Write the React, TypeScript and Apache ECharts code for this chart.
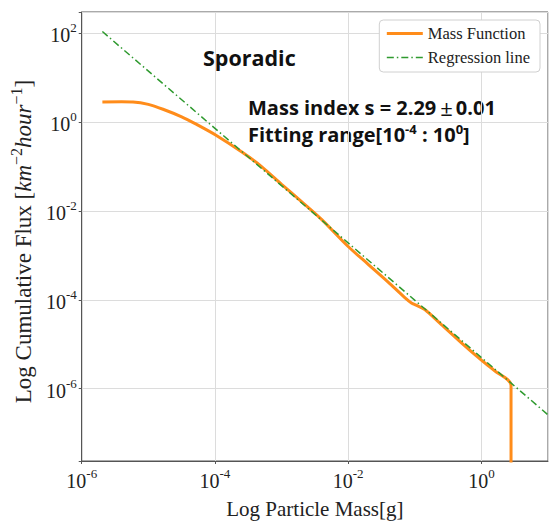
import React, { useEffect, useRef } from "react";
import * as echarts from "echarts";

// log10 of particle mass [g] and log10 of cumulative flux for the Mass Function curve
const massFunctionLogMass = [-5.69, -5.4, -5.23, -5.0, -4.78, -4.5, -4.29, -3.99, -3.59, -3.3, -3.0, -2.7, -2.4, -2.0, -1.7, -1.4, -1.15, -1.05, -0.98, -0.85, -0.6, -0.3, 0.0, 0.2, 0.445, 0.445];
const massFunctionLogFlux = [0.455, 0.46, 0.455, 0.4, 0.29, 0.12, -0.04, -0.29, -0.68, -1.0, -1.4, -1.79, -2.19, -2.8, -3.2, -3.6, -3.95, -4.07, -4.12, -4.22, -4.56, -4.97, -5.36, -5.6, -5.93, -9];

// regression line end points (log10 mass, log10 flux)
const regressionLogMass = [-5.69, 1.0];
const regressionLogFlux = [2.04, -6.59];

const xTickExps = [-6, -4, -2, 0];
const yTickExps = [-6, -4, -2, 0, 2];

const SERIF = "'Liberation Serif', 'Times New Roman', serif";
const SANS = "'Open Sans', Lato, sans-serif";
const TXT = "#222";

const tickRich = {
  b: { fontFamily: SERIF, fontSize: 20, color: TXT, lineHeight: 24, verticalAlign: "bottom" },
  s: { fontFamily: SERIF, fontSize: 13, color: TXT, lineHeight: 14, verticalAlign: "top" },
};

const makeFormatter = (ticks: number[]) => (v: number) => {
  const r = Math.round(v);
  if (Math.abs(v - r) > 1e-6 || ticks.indexOf(r) < 0) return "";
  return `{b|10}{s|${r}}`;
};

export default function App() {
  const ref = useRef<HTMLDivElement>(null);
  useEffect(() => {
    if (!ref.current) return;
    const chart = echarts.init(ref.current, null, { renderer: "svg" });
    const mfData = massFunctionLogMass.map((x, i) => [x, massFunctionLogFlux[i]]);
    const regData = regressionLogMass.map((x, i) => [x, regressionLogFlux[i]]);
    chart.setOption({
      animation: false,
      backgroundColor: "#fff",
      grid: {
        left: 78,
        right: 1,
        top: 12,
        bottom: 52,
        show: true,
        borderColor: "#555",
        borderWidth: 1,
        backgroundColor: "transparent",
      },
      legend: {
        orient: "vertical",
        right: 9,
        top: 20,
        itemWidth: 36,
        itemHeight: 14,
        itemGap: 7,
        padding: [5, 10, 6, 6],
        backgroundColor: "#fff",
        borderColor: "#d0d0d0",
        borderWidth: 1,
        borderRadius: 4,
        itemStyle: { opacity: 0 },
        textStyle: { fontFamily: SERIF, fontSize: 16.5, color: TXT },
        data: [
          { name: "Mass Function", lineStyle: { width: 3 }, itemStyle: { opacity: 0 } },
          { name: "Regression line", lineStyle: { width: 1.5 }, itemStyle: { opacity: 0 } },
        ],
      },
      xAxis: {
        type: "value",
        min: -6,
        max: 1,
        interval: 2,
        name: "Log Particle Mass[g]",
        nameLocation: "middle",
        nameGap: 37,
        nameTextStyle: { fontFamily: SERIF, fontSize: 21, color: TXT },
        axisLine: { show: true, onZero: false, lineStyle: { color: "#555" } },
        axisTick: { show: true, length: 3, lineStyle: { color: "#555" } },
        axisLabel: {
          margin: 6,
          formatter: makeFormatter(xTickExps),
          rich: tickRich,
          showMaxLabel: false,
        },
        splitLine: { show: true, lineStyle: { color: "#dcdcdc", width: 1 } },
      },
      yAxis: {
        type: "value",
        min: -7.63,
        max: 2.48,
        splitNumber: 5,
        name: "{n|Log Cumulative Flux [}{i|km}{s|−2}{i|hour}{s|−1}{n|]}",
        nameLocation: "middle",
        nameGap: 41,
        nameRotate: 90,
        nameTextStyle: {
          fontFamily: SERIF,
          fontSize: 23,
          color: TXT,
          padding: [0, 10, 0, 0],
          rich: {
            n: { fontFamily: SERIF, fontSize: 23, color: TXT, lineHeight: 27, verticalAlign: "bottom" },
            i: { fontFamily: SERIF, fontSize: 23, fontStyle: "italic", color: TXT, lineHeight: 27, verticalAlign: "bottom" },
            s: { fontFamily: SERIF, fontSize: 16, color: TXT, lineHeight: 17, verticalAlign: "top" },
          },
        },
        axisLine: { show: true, onZero: false, lineStyle: { color: "#555" } },
        axisTick: { show: true, length: 3, lineStyle: { color: "#555" } },
        axisLabel: {
          margin: 5,
          formatter: makeFormatter(yTickExps),
          rich: tickRich,
        },
        splitLine: { show: true, lineStyle: { color: "#dcdcdc", width: 1 } },
      },
      series: [
        {
          name: "Mass Function",
          type: "line",
          data: mfData,
          symbol: "none",
          showSymbol: false,
          smooth: 0.3,
          clip: true,
          lineStyle: { color: "#ff8c1a", width: 3 },
          itemStyle: { color: "#ff8c1a" },
          z: 2,
        },
        {
          name: "Regression line",
          type: "line",
          data: regData,
          symbol: "none",
          showSymbol: false,
          clip: true,
          lineStyle: { color: "#2f9a2f", width: 1.5, type: [7, 3, 1.5, 3] },
          itemStyle: { color: "#2f9a2f" },
          z: 3,
        },
      ],
      graphic: [
        {
          type: "text",
          x: 203,
          y: 57,
          style: {
            text: "Sporadic",
            font: `bold 21.5px ${SANS}`,
            fill: "#111",
            align: "left",
            verticalAlign: "middle",
          },
        },
        {
          type: "text",
          x: 248,
          y: 107,
          style: {
            text: "{t|Mass index s = 2.29}{p|±}{t|0.01}",
            align: "left",
            verticalAlign: "middle",
            rich: {
              t: { font: `bold 20px ${SANS}`, fill: "#111", color: "#111", lineHeight: 22 },
              p: { font: `normal 22px ${SANS}`, fill: "#111", color: "#111", lineHeight: 22, padding: [0, 3, 0, 4] },
            },
          },
        },
        {
          type: "text",
          x: 248,
          y: 133,
          style: {
            text: "{t|Fitting range[10}{s|-4}{t| : 10}{s|0}{t|]}",
            align: "left",
            verticalAlign: "middle",
            rich: {
              t: { font: `bold 20px ${SANS}`, fill: "#111", color: "#111", lineHeight: 22, verticalAlign: "bottom" },
              s: { font: `bold 13px ${SANS}`, fill: "#111", color: "#111", lineHeight: 13, verticalAlign: "top" },
            },
          },
        },
      ],
    });
    return () => chart.dispose();
  }, []);
  return (
    <div
      ref={ref}
      style={{ position: "fixed", left: 0, top: 0, width: 549, height: 524, background: "#fff" }}
    />
  );
}
